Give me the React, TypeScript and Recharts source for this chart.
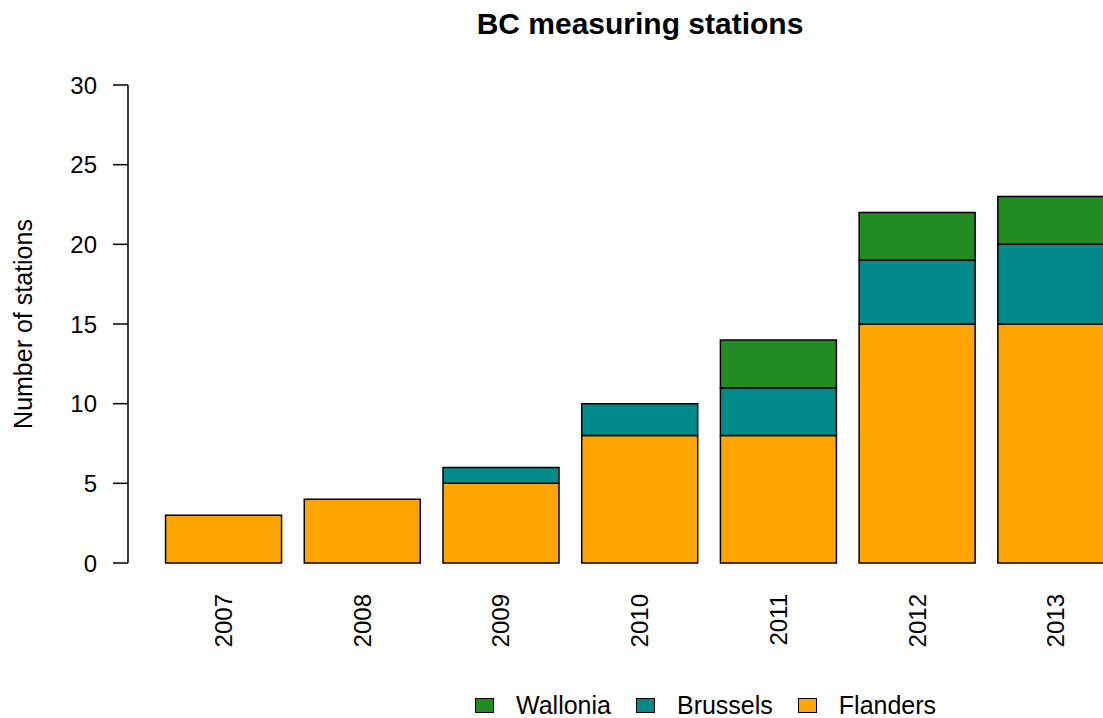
import React from 'react';
import { BarChart, Bar, XAxis, YAxis } from 'recharts';

const years = ['2007', '2008', '2009', '2010', '2011', '2012', '2013'];
const flanders = [3, 4, 5, 8, 8, 15, 15];
const brussels = [0, 0, 1, 2, 3, 4, 5];
const wallonia = [0, 0, 0, 0, 3, 3, 3];
const yTicks = [0, 5, 10, 15, 20, 25, 30];

const series = [
    { key: 'Flanders', values: flanders, color: '#FFA500' },
    { key: 'Brussels', values: brussels, color: '#008B8B' },
    { key: 'Wallonia', values: wallonia, color: '#228B22' },
];

const data = years.map((year, i) => ({
    year,
    Flanders: flanders[i],
    Brussels: brussels[i],
    Wallonia: wallonia[i],
}));

const FONT = '"Liberation Sans", Arial, Helvetica, sans-serif';

function YearTick({ x, y, payload }: any) {
    const top = y + 31;
    return (
        <text
            x={x}
            y={top}
            transform={`rotate(-90, ${x}, ${top})`}
            textAnchor="end"
            dy="0.36em"
            fontSize={24}
            fontFamily={FONT}
            fill="#000"
        >
            {payload.value}
        </text>
    );
}

export default function App() {
    return (
        <div style={{ position: 'absolute', left: 0, top: 0, width: 1103, height: 718, overflow: 'hidden', background: '#fff', fontFamily: FONT }}>
            <div style={{ position: 'absolute', left: 640, top: 8, transform: 'translateX(-50%)', fontSize: 30, fontWeight: 'bold', whiteSpace: 'nowrap', lineHeight: '32px' }}>
                BC measuring stations
            </div>
            <div style={{ position: 'absolute', left: 23, top: 324, transform: 'translate(-50%, -50%) rotate(-90deg)', fontSize: 25, whiteSpace: 'nowrap', lineHeight: '25px' }}>
                Number of stations
            </div>
            <BarChart
                width={1125}
                height={718}
                data={data}
                margin={{ top: 85, right: 0, bottom: 0, left: 0 }}
                barCategoryGap="8.333%"
                style={{ position: 'absolute', left: 0, top: 0 }}
            >
                <XAxis
                    dataKey="year"
                    axisLine={false}
                    tickLine={false}
                    tickSize={0}
                    tickMargin={0}
                    height={155}
                    padding={{ left: 26, right: 0 }}
                    interval={0}
                    tick={<YearTick />}
                />
                <YAxis
                    domain={[0, 30]}
                    ticks={yTicks}
                    width={128}
                    tickSize={15}
                    tickMargin={16}
                    axisLine={{ stroke: '#000', strokeWidth: 1.5 }}
                    tickLine={{ stroke: '#000', strokeWidth: 1.5 }}
                    tick={{ fontSize: 24, fill: '#000', fontFamily: FONT }}
                />
                {series.map((s) => (
                    <Bar
                        key={s.key}
                        dataKey={s.key}
                        stackId="a"
                        fill={s.color}
                        stroke="#000"
                        strokeWidth={1.5}
                        isAnimationActive={false}
                    />
                ))}
            </BarChart>
            <div style={{ position: 'absolute', left: 475, top: 693, display: 'flex', alignItems: 'center', fontSize: 25, lineHeight: '25px' }}>
                {[...series].reverse().map((s) => (
                    <div key={s.key} style={{ display: 'flex', alignItems: 'center', marginRight: 25 }}>
                        <div style={{ width: 17, height: 13, background: s.color, border: '1px solid #000', marginRight: 22 }} />
                        <span>{s.key}</span>
                    </div>
                ))}
            </div>
        </div>
    );
}
